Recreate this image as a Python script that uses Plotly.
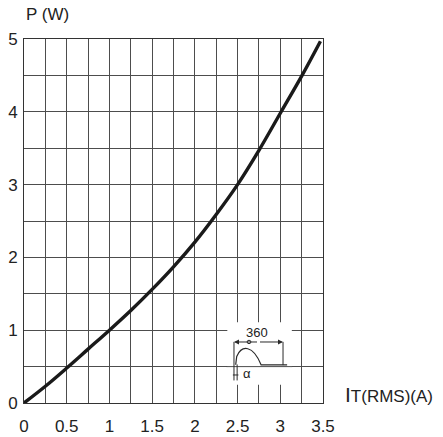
import plotly.graph_objects as go

# ---- data ----
current_a = [0, 0.25, 0.5, 0.75, 1.0, 1.25, 1.5, 1.75, 2.0, 2.25, 2.5, 2.75, 3.0, 3.25, 3.47]
power_w = [0, 0.23, 0.48, 0.74, 1.0, 1.27, 1.56, 1.87, 2.21, 2.59, 3.0, 3.47, 3.98, 4.49, 4.97]

x_grid = [i * 0.25 for i in range(15)]
x_tick_labels = ["0", "", "0.5", "", "1", "", "1.5", "", "2", "", "2.5", "", "3", "", "3.5"]
y_grid = [i * 0.5 for i in range(11)]
y_tick_labels = ["0", "", "1", "", "2", "", "3", "", "4", "", "5"]

FONT = "Liberation Sans, Arial, Helvetica, sans-serif"
GRID = "#4d4d4d"
INK = "#2a2a2a"

fig = go.Figure()
fig.add_trace(go.Scatter(
    x=current_a, y=power_w, mode="lines",
    line=dict(color="#1a1a1a", width=3.4, shape="spline", smoothing=1.0),
    hoverinfo="skip", showlegend=False,
))

shapes = []
# white patch behind the inset waveform drawing (interrupts grid)
shapes.append(dict(type="rect", xref="x", yref="y", x0=2.38, x1=3.135, y0=0.25, y1=1.11,
                   fillcolor="white", line=dict(width=0), layer="between"))
# the 0.5 W grid line runs through the inset
shapes.append(dict(type="line", xref="x", yref="y", x0=2.37, x1=3.14, y0=0.5, y1=0.5,
                   line=dict(color=GRID, width=1), layer="between"))
# inset: vertical guide lines
shapes.append(dict(type="line", xref="x", yref="y", x0=2.458, x1=2.458, y0=0.84, y1=0.31,
                   line=dict(color=INK, width=1)))
shapes.append(dict(type="line", xref="x", yref="y", x0=2.495, x1=2.495, y0=0.53, y1=0.31,
                   line=dict(color=INK, width=1)))
shapes.append(dict(type="line", xref="x", yref="y", x0=3.032, x1=3.032, y0=0.84, y1=0.52,
                   line=dict(color=INK, width=1)))
# inset: phase-controlled half wave + flat baseline
shapes.append(dict(type="path", xref="x", yref="y",
                   path="M 2.478,0.525 L 2.49,0.64 C 2.55,0.80 2.68,0.80 2.775,0.525 L 3.08,0.525",
                   line=dict(color=INK, width=1.2)))
# small alpha span tick
shapes.append(dict(type="line", xref="x", yref="y", x0=2.445, x1=2.51, y0=0.385, y1=0.385,
                   line=dict(color=INK, width=1)))
# degree circle
shapes.append(dict(type="circle", xref="x", yref="y", x0=2.612, x1=2.656, y0=0.815, y1=0.862,
                   line=dict(color=INK, width=1), fillcolor="white"))
fig.update_layout(shapes=shapes)

annotations = [
    dict(text="P (W)", xref="paper", yref="paper", x=0.0, y=1.066, xanchor="left", yanchor="middle",
         showarrow=False, font=dict(family=FONT, size=17, color="#222")),
    dict(text="I<span style='font-size:17px'>T(RMS)(A)</span>", xref="paper", yref="paper",
         x=1.066, y=0.022, xanchor="left", yanchor="middle",
         showarrow=False, font=dict(family=FONT, size=21, color="#222")),
    dict(text="360", xref="x", yref="y", x=2.73, y=0.975, showarrow=False,
         font=dict(family=FONT, size=13, color="#222")),
    dict(text="α", xref="x", yref="y", x=2.61, y=0.40, showarrow=False,
         font=dict(family=FONT, size=13, color="#222")),
    # double arrow for 360
    dict(x=2.458, y=0.838, ax=2.745, ay=0.838, xref="x", yref="y", axref="x", ayref="y",
         text="", showarrow=True, arrowhead=2, arrowsize=1, arrowwidth=1, arrowcolor=INK),
    dict(x=3.032, y=0.838, ax=2.745, ay=0.838, xref="x", yref="y", axref="x", ayref="y",
         text="", showarrow=True, arrowhead=2, arrowsize=1, arrowwidth=1, arrowcolor=INK),
]
fig.update_layout(annotations=annotations)

fig.update_xaxes(
    range=[0, 3.5], tickmode="array", tickvals=x_grid, ticktext=x_tick_labels,
    showgrid=True, gridcolor=GRID, gridwidth=1, zeroline=False,
    showline=True, mirror=True, linecolor="#333", linewidth=1,
    ticks="", ticklabelstandoff=8, automargin=False,
    tickfont=dict(family=FONT, size=17, color="#222"), fixedrange=True,
)
fig.update_yaxes(
    range=[0, 5], tickmode="array", tickvals=y_grid, ticktext=y_tick_labels,
    showgrid=True, gridcolor=GRID, gridwidth=1, zeroline=False,
    showline=True, mirror=True, linecolor="#333", linewidth=1,
    ticks="", ticklabelstandoff=2, automargin=False,
    tickfont=dict(family=FONT, size=17, color="#222"), fixedrange=True,
)
fig.update_layout(
    width=443, height=437, autosize=False,
    margin=dict(l=24, r=120, t=39, b=34, autoexpand=False),
    paper_bgcolor="white", plot_bgcolor="white",
    showlegend=False,
)
fig.write_html("out.html", config={"displayModeBar": False})
